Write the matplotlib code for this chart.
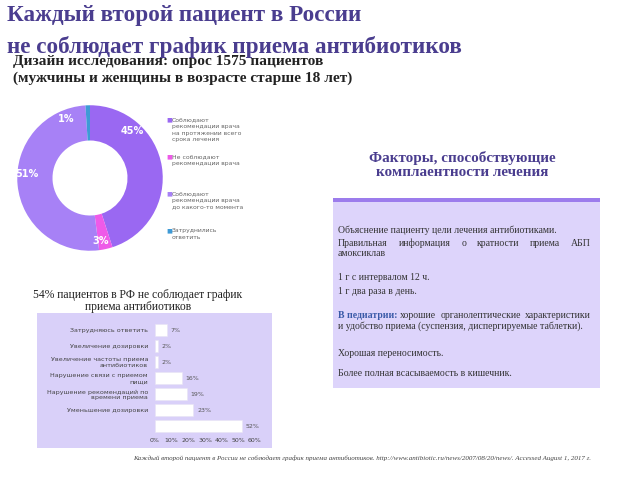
import numpy as np
import matplotlib
matplotlib.use('Agg')
import matplotlib.pyplot as plt
from matplotlib.patches import Rectangle

# donut data
pie_labels = ['Соблюдают\nрекомендации врача\nна протяжении всего\nсрока лечения',
              'Не соблюдают\nрекомендации врача',
              'Соблюдают\nрекомендации врача\nдо какого-то момента',
              'Затруднились\nответить']
pie_values = [45, 3, 51, 1]
pie_colors = ['#9a68f2', '#ee5ae8', '#a781f6', '#3e9ad6']

# bar data
bar_labels = ['Затрудняюсь ответить', 'Увеличение дозировки',
              'Увеличение частоты приема\nантибиотиков',
              'Нарушение связи с приемом\nпищи',
              'Нарушение рекомендаций по\nвремени приема',
              'Уменьшение дозировки', '']
bar_values = [7, 2, 2, 16, 19, 23, 52]
bar_ticks = [0, 10, 20, 30, 40, 50, 60]

box_lines = ['Объяснение пациенту цели лечения антибиотиками.',
             'Правильная информация о кратности приема АБП',
             'амоксиклав',
             '1 г с интервалом 12 ч.',
             '1 г два раза в день.',
             'хорошие органолептические характеристики',
             'и удобство приема (суспензия, диспергируемые таблетки).',
             'Хорошая переносимость.',
             'Более полная всасываемость в кишечник.']

W, H = 640, 480
def fx(x): return x / W
def fy(y): return 1 - y / H

serif = 'Liberation Serif'
dark_blue = '#4a3d8f'

fig = plt.figure(figsize=(6.4, 4.8), dpi=100)
renderer = fig.canvas.get_renderer()

# titles
fig.text(fx(7), fy(16), 'Каждый второй пациент в России', family=serif,
         weight='bold', size=16.7, color=dark_blue, va='center')
fig.text(fx(7), fy(47), 'не соблюдает график приема антибиотиков', family=serif,
         weight='bold', size=16.7, color=dark_blue, va='center')
fig.text(fx(13), fy(62), 'Дизайн исследования: опрос 1575 пациентов', family=serif,
         weight='bold', size=11.1, color='#222222', va='center')
fig.text(fx(13), fy(78), '(мужчины и женщины в возрасте старше 18 лет)', family=serif,
         weight='bold', size=11.1, color='#222222', va='center')

# donut
ax = fig.add_axes([fx(15), fy(253), 150 / W, 150 / H])
wedges, _ = ax.pie(pie_values, colors=pie_colors, startangle=90, counterclock=False,
                   radius=0.97, wedgeprops=dict(width=0.47, edgecolor='none'))
ax.set_xlim(-1, 1)
ax.set_ylim(-1, 1)
ax.set_aspect('equal')
label_angles = [48, -80, 176, 112]
for v, a in zip(pie_values, label_angles):
    r = 0.85
    ax.text(r * np.cos(np.radians(a)), r * np.sin(np.radians(a)), f'{v}%',
            color='white', size=7, ha='center', va='center', weight='bold')

for i, (lab, c) in enumerate(zip(pie_labels, pie_colors)):
    y = 117 + i * 37
    fig.text(fx(166), fy(y), '■', color=c, size=4.5, va='top', ha='left')
    fig.text(fx(172), fy(y), lab, color='#666666', size=4.4, va='top',
             ha='left', linespacing=1.45)

# bar chart
fig.text(fx(138), fy(301), '54% пациентов в РФ не соблюдает график\nприема антибиотиков',
         family=serif, size=8.4, color='#222222', ha='center', va='center', linespacing=1.05)
fig.patches.append(Rectangle((fx(37), fy(448)), 235 / W, 135 / H,
                             transform=fig.transFigure, facecolor='#d9d0f9',
                             edgecolor='none', zorder=0))
bx = fig.add_axes([fx(155), fy(434), 100 / W, 112 / H])
bx.set_zorder(3)
bx.set_facecolor('none')
ypos = np.arange(len(bar_values))
bx.barh(ypos, bar_values, height=0.72, color='white', edgecolor='#e8e4f4', linewidth=0.4)
for y, v in zip(ypos, bar_values):
    bx.text(v + 2.2, y, f'{v}%', size=4.5, color='#555555', va='center', ha='left')
bx.set_xlim(0, 60)
bx.set_ylim(len(bar_values) - 0.5, -0.5)
bx.set_yticks(ypos)
bx.set_yticklabels(bar_labels, size=4.6, color='#444444', linespacing=1.1)
bx.set_xticks(bar_ticks)
bx.set_xticklabels([f'{t}%' for t in bar_ticks], size=4.5, color='#444444')
bx.tick_params(axis='y', length=0, pad=5)
bx.tick_params(axis='x', length=0, pad=3)
for s in bx.spines.values():
    s.set_visible(False)

# factors box
fig.text(fx(462), fy(165), 'Факторы, способствующие\nкомплаентности лечения', family=serif,
         weight='bold', size=10.9, color=dark_blue, ha='center', va='center', linespacing=1.15)
fig.patches.append(Rectangle((fx(333), fy(388)), 267 / W, 188 / H,
                             transform=fig.transFigure, facecolor='#ddd4fb',
                             edgecolor='none', zorder=0))
fig.patches.append(Rectangle((fx(333), fy(202)), 267 / W, 4 / H,
                             transform=fig.transFigure, facecolor='#9c7cec',
                             edgecolor='none', zorder=1))


def text_width(s, **kw):
    t = fig.text(0, 0, s, family=serif, size=7, **kw)
    w = t.get_window_extent(renderer).width
    t.remove()
    return w


def justify(txt, y, x0, x1, color='#333333'):
    # spread the words of one line between x0 and x1
    words = txt.split(' ')
    extra = (x1 - x0 - text_width(txt)) / (len(words) - 1)
    for k, w in enumerate(words):
        x = x0 + text_width(' '.join(words[:k + 1])) - text_width(w) + k * extra
        fig.text(fx(x), fy(y), w, family=serif, size=7, color=color, va='center')


line_y = [230, 243, 253, 278, 291, 315, 326, 354, 373]
for i, (txt, y) in enumerate(zip(box_lines, line_y)):
    if i == 1:
        justify(txt, y, 338, 591)
    elif i == 5:
        head = 'В педиатрии: '
        fig.text(fx(338), fy(y), head, family=serif, size=7, color='#3a5aa8',
                 weight='bold', va='center')
        hw = text_width(head + 'x', weight='bold') - text_width('x')
        justify(txt, y, 338 + hw, 591)
    else:
        fig.text(fx(338), fy(y), txt, family=serif, size=7, color='#333333', va='center')

# footnote
fig.text(fx(133), fy(458),
         'Каждый второй пациент в России не соблюдает график приема антибиотиков. '
         'http://www.antibiotic.ru/news/2007/08/20/news/. Accessed August 1, 2017 г.',
         family=serif, style='italic', size=5.05, color='#444444', va='center')

fig.savefig('out.png', dpi=100)
